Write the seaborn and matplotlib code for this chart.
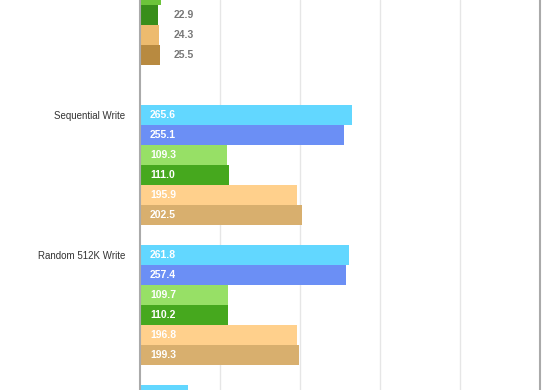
import matplotlib
matplotlib.use("Agg")
import matplotlib.pyplot as plt
import seaborn as sns
import pandas as pd

sns.set_style("white")
plt.rcParams["font.family"] = ["Liberation Sans", "DejaVu Sans"]

# one row per bar slot, top to bottom; empty slots are the gaps between groups
slots = ["a1", "a2", "a3", "a4", "gap1", "gap2",
         "s1", "s2", "s3", "s4", "s5", "s6", "gap3",
         "r1", "r2", "r3", "r4", "r5", "r6", "gap4",
         "b1"]
bar_slots = ["a1", "a2", "a3", "a4",
             "s1", "s2", "s3", "s4", "s5", "s6",
             "r1", "r2", "r3", "r4", "r5", "r6",
             "b1"]
values = [26.5, 22.9, 24.3, 25.5,
          265.6, 255.1, 109.3, 111.0, 195.9, 202.5,
          261.8, 257.4, 109.7, 110.2, 196.8, 199.3,
          60.0]
colors = ["#6CC43A", "#388E1A", "#EDBB6E", "#B88A40",
          "#62D7FF", "#6B8FF5", "#97E066", "#46A81E", "#FFD08C", "#D8AF6E",
          "#62D7FF", "#6B8FF5", "#97E066", "#46A81E", "#FFD08C", "#D8AF6E",
          "#62D7FF"]
group_labels = {"s1": "Sequential Write", "r1": "Random 512K Write"}
# bars cut by the picture's edges carry no visible label
hidden_labels = ["a1", "b1"]

df = pd.DataFrame({"slot": bar_slots, "value": values})

fig = plt.figure(figsize=(5.6, 3.9), dpi=100)
ax = fig.add_axes([140 / 560, 0, 400 / 560, 1])

sns.barplot(data=df, x="value", y="slot", order=slots, hue="slot",
            palette=dict(zip(bar_slots, colors)), dodge=False, width=1.0,
            legend=False, saturation=1, ax=ax)

for p in ax.patches:
    p.set_edgecolor("none")

ax.set_xlim(0, 500)
ax.set_ylim(19.75, 0.25)
ax.set_xticks([100, 200, 300, 400])
ax.grid(axis="x", color="#e6e6e6", linewidth=1)
ax.set_axisbelow(True)
ax.set_xlabel("")
ax.set_ylabel("")
ax.tick_params(axis="x", bottom=False, labelbottom=False)
ax.tick_params(axis="y", left=False, pad=7)

ax.set_yticks([slots.index(s) for s in group_labels])
ax.set_yticklabels(list(group_labels.values()), fontsize=7, color="#333333")

for side in ["top", "bottom"]:
    ax.spines[side].set_visible(False)
ax.spines["left"].set_color("#aaaaaa")
ax.spines["left"].set_linewidth(1.5)
ax.spines["right"].set_color("#aaaaaa")
ax.spines["right"].set_linewidth(1.5)

for s, v in zip(bar_slots, values):
    if s in hidden_labels:
        continue
    y = slots.index(s)
    if v > 60:
        ax.text(12.5, y, f"{v:.1f}", color="white", fontsize=7.5,
                fontweight="bold", va="center", ha="left")
    else:
        ax.text(42, y, f"{v:.1f}", color="#777777", fontsize=7.5,
                fontweight="bold", va="center", ha="left")

fig.savefig("out.png", dpi=100)
